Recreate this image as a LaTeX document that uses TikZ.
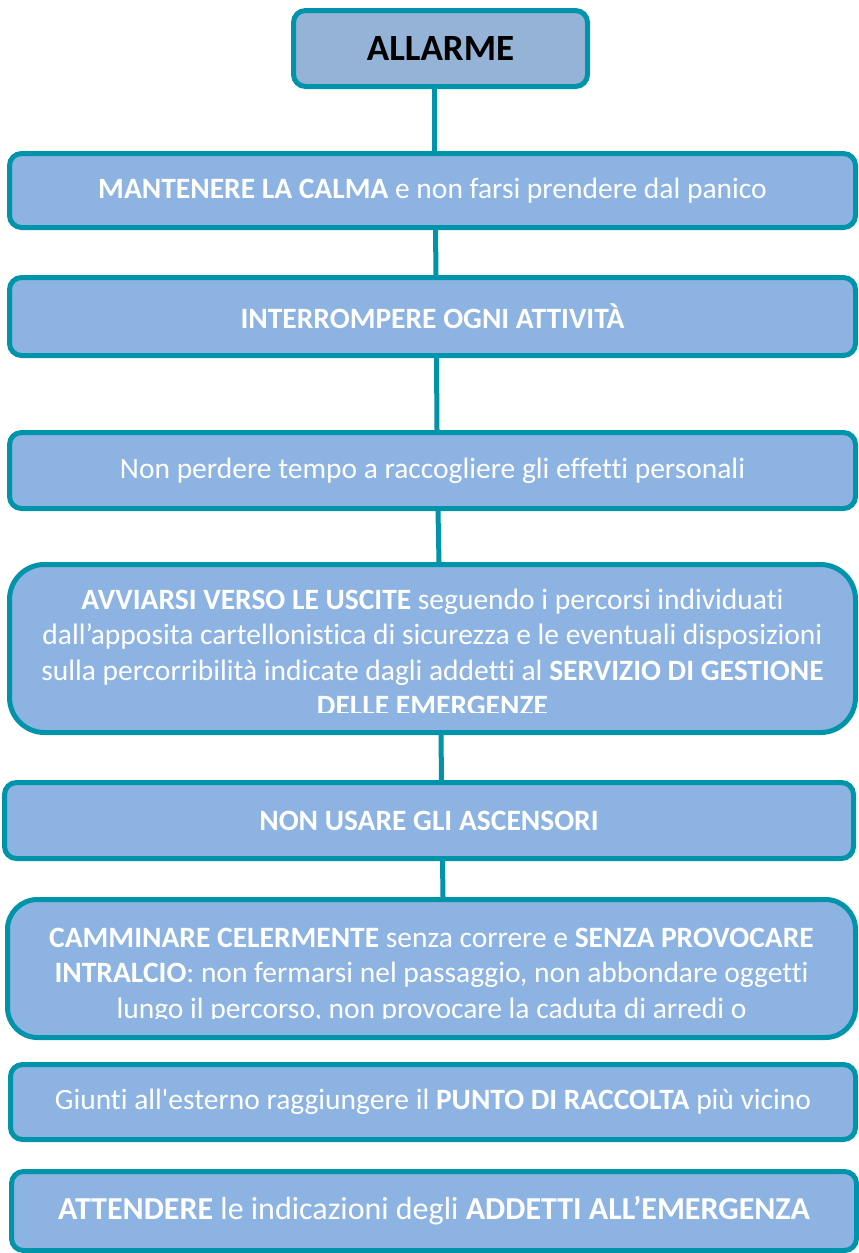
\documentclass[tikz,border=0pt]{standalone}
\usepackage{fontspec}
\setmainfont{Carlito}[Ligatures={TeX,NoCommon}]
\definecolor{tealline}{RGB}{0,148,170}
\definecolor{fillA}{HTML}{95B3D7}
\definecolor{fillB}{HTML}{8DB3E2}
\begin{document}
\begin{tikzpicture}[x=1pt,y=-1pt,
  box/.style={draw=tealline, line width=5pt, fill=fillB, rounded corners=12pt,
    minimum width=846pt, text=white, inner sep=0pt,
    font=\fontsize{29.5}{35.5}\selectfont},
  boxtext/.style={text=white, align=center, anchor=north, inner sep=0pt,
    font=\fontsize{29.5}{35.3}\selectfont},
  link/.style={draw=tealline, line width=5pt}]
\useasboundingbox (0,0) rectangle (859,1253);

\node[box, fill=fillA, minimum width=294pt, minimum height=76pt, text=black,
  font=\bfseries\fontsize{37}{42}\selectfont] (b0) at (440.5,48.5) {ALLARME};
\node[box, minimum height=74pt] (b1) at (432.5,190.5)
  {\textbf{MANTENERE LA CALMA} e non farsi prendere dal panico};
\node[box, minimum height=78pt] (b2) at (432.5,316.5)
  {\textbf{INTERROMPERE OGNI ATTIVITÀ}};
\node[box, minimum height=76pt] (b3) at (432.5,470.5)
  {Non perdere tempo a raccogliere gli effetti personali};
\node[box, minimum height=168pt, rounded corners=35pt] (b4) at (432.5,648.5) {};
\node[box, minimum width=849pt, minimum height=76pt] (b5) at (429,820.5)
  {\textbf{NON USARE GLI ASCENSORI}};
\node[box, minimum width=848pt, minimum height=138pt, rounded corners=30pt] (b6) at (431.5,968.5) {};
\node[box, minimum width=845pt, minimum height=75pt] (b7) at (433,1102)
  {Giunti all\textquotesingle esterno raggiungere il \textbf{PUNTO DI RACCOLTA} più vicino};
\node[box, minimum width=845pt, minimum height=79pt,
  font=\fontsize{32}{38}\selectfont] (b8) at (434,1211)
  {\textbf{ATTENDERE} le indicazioni degli \textbf{ADDETTI ALL’EMERGENZA}};

\begin{scope}
  \clip (10,566) rectangle (855,712);
  \node[boxtext] (b4t) at (432.5,589)
    {\textbf{AVVIARSI VERSO LE USCITE} seguendo i percorsi individuati\\
     dall’apposita cartellonistica di sicurezza e le eventuali disposizioni\\
     sulla percorribilità indicate dagli addetti al \textbf{SERVIZIO DI GESTIONE}\\
     \textbf{DELLE EMERGENZE}};
\end{scope}
\begin{scope}
  \clip (10,901) rectangle (855,1018);
  \node[boxtext] (b6t) at (431.5,928)
    {\textbf{CAMMINARE CELERMENTE} senza correre e \textbf{SENZA PROVOCARE}\\
     \textbf{INTRALCIO}: non fermarsi nel passaggio, non abbondare oggetti\\
     lungo il percorso, non provocare la caduta di arredi o};
\end{scope}

\draw[link] ([xshift=-6.5pt]b0.south) -- ([xshift=1.5pt]b1.north);
\draw[link] ([xshift=3pt]b1.south) -- ([xshift=3.5pt]b2.north);
\draw[link] ([xshift=4pt]b2.south) -- ([xshift=4.5pt]b3.north);
\draw[link] ([xshift=5.5pt]b3.south) -- ([xshift=6.5pt]b4.north);
\draw[link] ([xshift=8.5pt]b4.south) -- ([xshift=12.5pt]b5.north);
\draw[link] ([xshift=13.5pt]b5.south) -- ([xshift=11.5pt]b6.north);
\end{tikzpicture}
\end{document}
